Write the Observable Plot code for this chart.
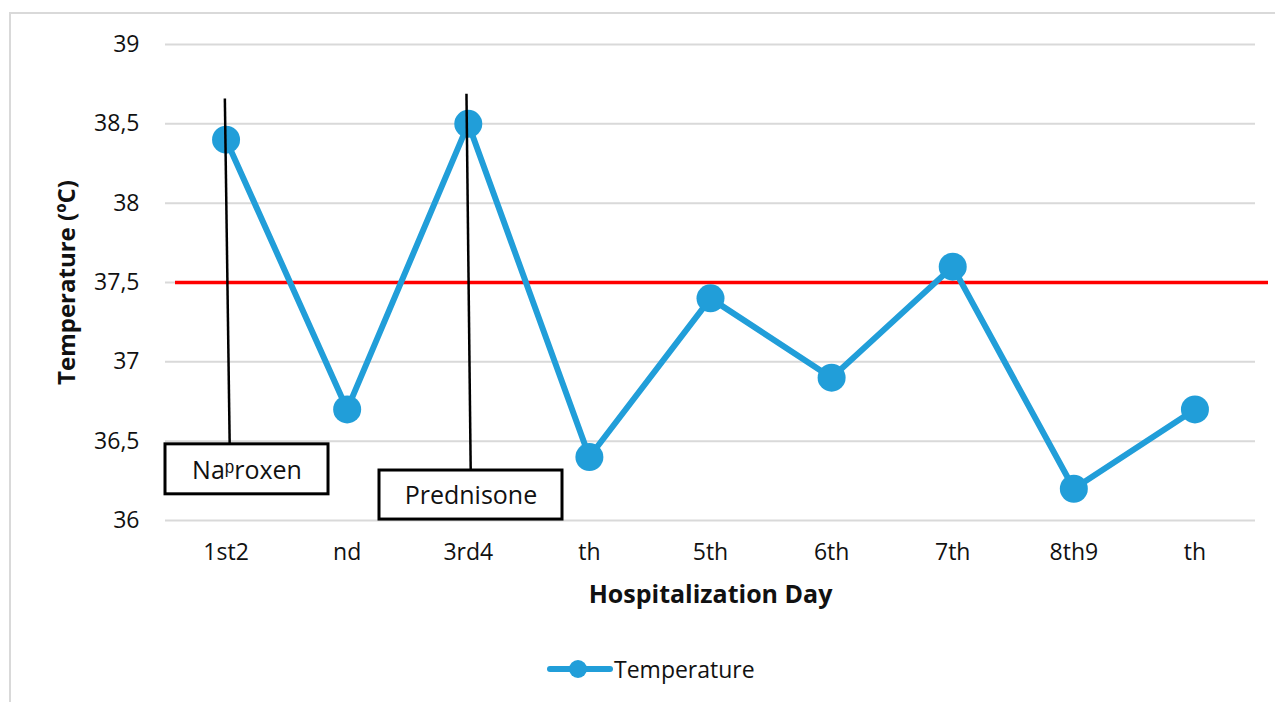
<!DOCTYPE html>
<html>
<head>
<meta charset="utf-8">
<script src="https://cdn.jsdelivr.net/npm/d3@7"></script>
<script src="https://cdn.jsdelivr.net/npm/@observablehq/plot@0.6"></script>
<style>
  body { margin: 0; background: white; font-family: "Open Sans", sans-serif; }
  #wrap { position: relative; width: 1275px; height: 702px; overflow: hidden; background: white; }
  #border { position: absolute; left: 9px; top: 12px; width: 1300px; height: 700px;
            border-top: 2px solid #d9d9d9; border-left: 2px solid #d9d9d9; pointer-events: none; }
  #legend { position: absolute; left: 547px; top: 653px; height: 32px; display: flex; align-items: center;
            font-family: "Open Sans", sans-serif; font-size: 23px; color: #111; }
</style>
</head>
<body>
<div id="wrap">
  <div id="chart"></div>
  <div id="legend">
    <svg width="66" height="32"><line x1="3" y1="16" x2="63" y2="16" stroke="#219ed9" stroke-width="6" stroke-linecap="round"/><circle cx="31" cy="16" r="9" fill="#219ed9"/></svg>
    <span style="margin-left:1px">Temperature</span>
  </div>
  <div id="border"></div>
</div>
<script>
// Data
const dayLabels = ["1st2", "nd", "3rd4", "th", "5th", "6th", "7th", "8th9", "th"];
const temperatures = [38.4, 36.7, 38.5, 36.4, 37.4, 36.9, 37.6, 36.2, 36.7];
const yTicks = [36, 36.5, 37, 37.5, 38, 38.5, 39];
const threshold = [37.5];

// Annotations (drug start markers)
const annotationLines = [
  {x1: -0.01, y1: 38.66, x2: 0.03, y2: 36.48},
  {x1: 1.985, y1: 38.69, x2: 2.02, y2: 36.315}
];
const annotationBoxes = [
  {label: "Na\u1D56roxen", x1: -0.5, x2: 0.846, y1: 36.48, y2: 36.165, tx: 0.173, ty: 36.31},
  {label: "Prednisone", x1: 1.267, x2: 2.778, y1: 36.315, y2: 36.006, tx: 2.022, ty: 36.155}
];

const data = temperatures.map((t, i) => ({i, t}));
const blue = "#219ed9";

const chart = Plot.plot({
  width: 1275,
  height: 640,
  marginLeft: 165,
  marginRight: 20,
  marginTop: 44,
  marginBottom: 120,
  style: {fontFamily: "Open Sans, sans-serif", fontSize: "23px", color: "#111", background: "transparent", overflow: "visible"},
  x: {type: "linear", domain: [-0.5, 8.5]},
  y: {domain: [36, 39]},
  marks: [
    Plot.gridY(yTicks, {stroke: "#d9d9d9", strokeOpacity: 1, strokeWidth: 2}),
    Plot.axisY(yTicks, {tickSize: 0, tickPadding: 26, tickFormat: d => String(d).replace(".", ","), label: null, fontSize: 23}),
    Plot.axisX(d3.range(dayLabels.length), {tickSize: 0, tickPadding: 23, tickFormat: i => dayLabels[i], label: null, fontSize: 23}),
    Plot.ruleY(threshold, {stroke: "#ff0000", strokeWidth: 3.5, insetLeft: 10, insetRight: -13}),
    Plot.line(data, {x: "i", y: "t", stroke: blue, strokeWidth: 6}),
    Plot.dot(data, {x: "i", y: "t", r: 14, fill: blue, stroke: null}),
    Plot.link(annotationLines, {x1: "x1", y1: "y1", x2: "x2", y2: "y2", stroke: "black", strokeWidth: 2.5}),
    Plot.rect(annotationBoxes, {x1: "x1", x2: "x2", y1: "y1", y2: "y2", fill: "white", stroke: "black", strokeWidth: 3}),
    Plot.text(annotationBoxes, {x: "tx", y: "ty", text: "label", fontSize: 25, fill: "#111"}),
    Plot.text(["Temperature (ºC)"], {frameAnchor: "left", dx: -98, rotate: -90, textAnchor: "middle", fontSize: 24, fontWeight: "bold", fill: "#111"}),
    Plot.text(["Hospitalization Day"], {frameAnchor: "bottom", dy: 82, fontSize: 25, fontWeight: "bold", fill: "#111"})
  ]
});
document.getElementById("chart").appendChild(chart);
</script>
</body>
</html>
